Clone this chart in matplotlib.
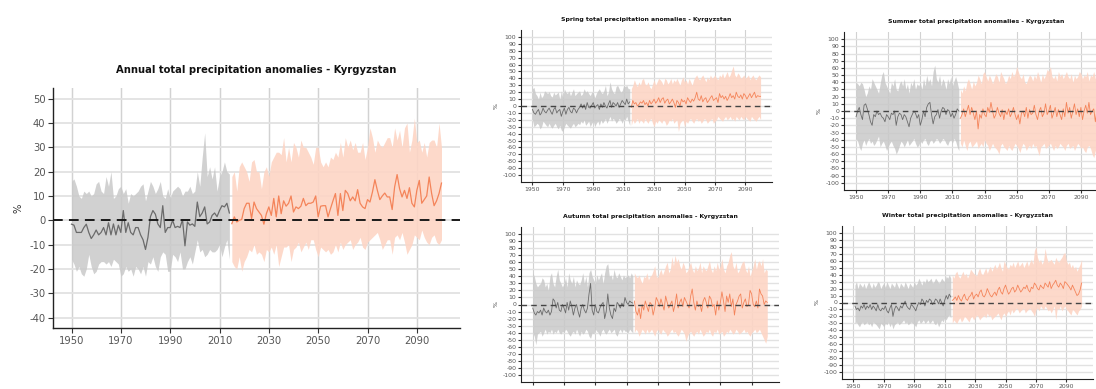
import numpy as np
import matplotlib
matplotlib.use("Agg")
import matplotlib.pyplot as plt

plt.rcParams["font.family"] = ["DejaVu Sans"]
plt.rcParams["axes.unicode_minus"] = False

# ---------------------------------------------------------------- data
years_hist = np.arange(1950, 2015)
years_hist_djf = np.arange(1951, 2015)
years_fut = np.arange(2015, 2101)

# Annual
annual_hist_mean = [
    -1.6, -2, -5, -5, -5, -3, -1.6, -5, -7.5, -6,
    -4, -6, -5, -3, -6, -1, -6, -1.5, -6, -2,
    -5, 4, -5, -1, -5, -6, -3, -3, -6, -8,
    -12, -7, 1.5, 4, 2.5, -1.5, -3, 6, -5, -3,
    -3, 0, -3, -2.5, -3, 0.3, -10.5, -0.7, -2, -1.5,
    -2.5, 7.5, 1.5, 3, 5.5, -1.5, -0.7, 2, 3, 1.5,
    4, 6, 5.5, 7, 3,
]
annual_hist_high = [
    16, 17, 14, 10, 9, 12, 11, 12, 10, 11,
    15, 16, 12, 11, 18, 14, 20, 9, 10, 13,
    14, 11, 13, 7, 11, 10, 11, 12, 14, 15,
    8, 12, 16, 14, 11, 13, 16, 10, 9, 13,
    9, 12, 13, 14, 13, 10, 12, 12, 14, 11,
    12, 20, 14, 26, 36, 18, 22, 17, 22, 12,
    18, 20, 24, 20, 19,
]
annual_hist_low = [
    -16, -18, -21, -19, -22, -23, -20, -14, -19, -22,
    -21, -18, -17, -17, -18, -17, -19, -16, -17, -18,
    -23, -22, -19, -21, -20, -23, -19, -20, -22, -19,
    -23, -17, -18, -15, -19, -21, -15, -13, -14, -21,
    -21, -14, -15, -17, -13, -20, -20, -17, -15, -18,
    -13, -8, -13, -12, -15, -14, -12, -13, -13, -12,
    -10, -15, -11, -8, -16,
]
annual_fut_mean = [
    -1.4, 1.4, -0.7, 0, 0.3, 4.8, 7, 7, 0.7, 7.5,
    4.8, 3.4, 2, -1.6, 2.7, 5.5, 2, 9, 1.4, 10,
    2.7, 8, 5.8, 7, 10, 3.4, 5.5, 4.8, 5.8, 9,
    6, 7, 7, 7.5, 10, 1.4, 5.8, 6, 6, 1.4,
    4.8, 8, 11, 2, 11, 4, 12.3, 11, 8, 9.6,
    8, 12.6, 7, 5.5, 4.8, 8.5, 7.5, 11.6, 16.7, 12.3,
    8.5, 10, 11.2, 9.6, 9.6, 4.4, 13.7, 18.8, 13, 9.6,
    12.3, 9, 13.4, 7, 5.5, 12.3, 16.4, 7, 8.5, 10,
    17.8, 11, 6, 8, 11, 15.3,
]
annual_fut_high = [
    18, 20, 12, 22, 24, 22, 20, 16, 24, 25,
    20, 20, 13, 20, 22, 18, 24, 26, 28, 28,
    27, 34, 24, 30, 24, 32, 30, 26, 33, 30,
    30, 28, 26, 23, 30, 30, 24, 22, 24, 22,
    26, 25, 28, 26, 32, 26, 34, 30, 33, 29,
    32, 28, 28, 32, 25, 30, 38, 34, 28, 33,
    31, 30, 32, 34, 34, 30, 38, 33, 37, 30,
    38, 40, 28, 33, 42, 32, 33, 28, 32, 26,
    32, 33, 33, 30, 40, 30,
]
annual_fut_low = [
    -17, -19, -20, -15, -21, -17, -15, -12, -13, -10,
    -14, -13, -14, -17, -12, -13, -11, -14, -10, -19,
    -15, -11, -11, -10, -17, -12, -11, -9, -13, -11,
    -9, -12, -8, -8, -12, -15, -11, -12, -13, -12,
    -14, -13, -10, -13, -9, -12, -10, -9, -8, -12,
    -10, -9, -7, -11, -12, -9, -8, -7, -6, -5,
    -8, -12, -10, -8, -8, -14, -7, -6, -8, -5,
    -9, -14, -12, -10, -6, -7, -8, -4, -7, -9,
    -10, -7, -6, -9, -10, -8,
]

# Spring
spring_hist_mean = [
    -5, -10, -12, -8, -5, -13, -10, -3, -8, -10,
    -6, -3, -8, -12, -5, -2, -10, -7, -5, -15,
    -8, -3, -12, -5, -2, -8, -10, -3, -5, -10,
    -5, -2, 3, -3, 2, -5, 5, -2, -3, 1,
    5, -3, 0, 2, -5, 3, -2, 5, 0, -3,
    3, 8, -2, 5, 3, 0, 5, -2, 3, 8,
    5, 2, 10, 3, 6,
]
spring_hist_high = [
    25, 27, 18, 15, 10, 20, 12, 15, 22, 20,
    18, 21, 15, 13, 20, 16, 18, 20, 10, 22,
    12, 25, 20, 18, 22, 15, 20, 25, 15, 18,
    20, 22, 15, 18, 25, 20, 22, 18, 15, 20,
    20, 12, 18, 22, 25, 20, 18, 22, 30, 15,
    20, 35, 25, 20, 18, 28, 30, 25, 20, 22,
    30, 28, 30, 25, 25,
]
spring_hist_low = [
    -20, -30, -28, -25, -27, -33, -30, -22, -25, -28,
    -30, -25, -30, -32, -28, -25, -30, -33, -28, -35,
    -37, -30, -25, -28, -30, -32, -28, -25, -30, -28,
    -25, -27, -22, -25, -20, -28, -25, -22, -30, -25,
    -22, -30, -25, -22, -28, -20, -25, -22, -18, -25,
    -20, -15, -22, -18, -20, -25, -22, -18, -20, -25,
    -18, -20, -15, -22, -28,
]
spring_fut_mean = [
    -2, 8, 3, 5, 0, 2, 6, 4, 8, 2,
    5, 0, 8, 3, 6, 10, 4, 7, 12, 5,
    10, 12, 4, 8, 10, 3, 6, 10, 5, -2,
    8, 5, 0, 10, 6, 8, 3, 12, 8, 5,
    10, 7, 12, 20, 10, 8, 15, 6, 10, 12,
    5, 8, 12, 15, 8, 10, 12, 5, 18, 12,
    15, 10, 14, 8, 12, 18, 12, 15, 10, 20,
    14, 12, 16, 10, 18, 15, 10, 14, 18, 12,
    16, 20, 12, 15, 14, 14,
]
spring_fut_high = [
    25, 30, 38, 32, 28, 35, 30, 38, 40, 32,
    30, 35, 28, 25, 32, 38, 30, 35, 40, 38,
    35, 30, 40, 38, 32, 35, 40, 32, 38, 35,
    40, 35, 30, 38, 42, 35, 38, 32, 40, 35,
    30, 38, 42, 45, 40, 38, 42, 45, 40, 35,
    42, 38, 45, 40, 42, 45, 40, 38, 45, 42,
    48, 40, 45, 50, 42, 45, 52, 58, 45, 42,
    48, 45, 40, 42, 45, 40, 42, 45, 38, 42,
    45, 40, 38, 42, 45, 42,
]
spring_fut_low = [
    -28, -20, -25, -22, -18, -25, -20, -22, -25, -18,
    -22, -25, -20, -18, -25, -30, -22, -25, -20, -22,
    -25, -20, -22, -28, -25, -20, -22, -18, -25, -22,
    -20, -37, -25, -22, -20, -30, -22, -25, -20, -18,
    -22, -25, -20, -18, -22, -20, -25, -22, -18, -20,
    -25, -22, -20, -18, -25, -22, -20, -15, -18, -20,
    -22, -18, -15, -20, -18, -15, -20, -18, -22, -15,
    -18, -20, -15, -18, -20, -15, -18, -20, -22, -15,
    -18, -20, -22, -18, -15, -20,
]

# Summer
summer_hist_mean = [
    -8, 0, 5, -5, -12, 8, 10, 3, -5, -15,
    -20, -5, -8, 0, -5, -3, -8, -10, -15, -5,
    -8, -12, -3, -5, 0, -20, -8, -3, -5, -12,
    -5, -8, -15, -22, -10, -5, 0, -3, -10, -5,
    -20, -12, 0, -8, 5, 10, 12, -5, -18, -8,
    -5, 2, -10, 0, 5, 3, -5, 2, 0, -8,
    -3, -10, -5, 3, 0,
]
summer_hist_high = [
    40, 38, 35, 40, 38, 30, 20, 25, 35, 30,
    45, 40, 35, 30, 25, 38, 50, 55, 40, 35,
    30, 25, 40, 35, 45, 30, 28, 38, 42, 35,
    45, 30, 38, 25, 40, 35, 45, 30, 38, 35,
    40, 30, 45, 35, 50, 40, 45, 35, 55, 64,
    45, 40, 50, 35, 45, 40, 30, 45, 38, 48,
    35, 42, 48, 40, 30,
]
summer_hist_low = [
    -38, -42, -50, -55, -45, -40, -48, -42, -38, -45,
    -42, -48, -45, -40, -35, -50, -45, -42, -48, -55,
    -50, -45, -42, -48, -52, -60, -55, -48, -42, -45,
    -50, -45, -40, -48, -45, -42, -38, -45, -50, -48,
    -42, -45, -40, -38, -45, -48, -42, -40, -45, -42,
    -38, -40, -45, -42, -38, -40, -45, -48, -42, -40,
    -45, -38, -42, -50, -55,
]
summer_fut_mean = [
    -10, -5, 3, -8, 0, 8, -5, 5, -3, -12,
    0, -25, -5, -10, 3, -5, -8, 5, -2, 12,
    0, -10, -5, 5, -3, -8, 2, -12, 0, -5,
    3, -8, -3, 5, -5, -12, -5, -18, -3, 0,
    -8, 5, -10, 2, -5, -3, 8, -5, -12, 0,
    5, -8, -3, 10, -5, 0, 8, -10, -3, 5,
    -8, 2, -5, -12, 3, -8, 12, -3, 5, -10,
    0, 10, -5, 3, -8, 5, -12, 0, 8, -3,
    12, -5, 0, 3, -15, 2,
]
summer_fut_high = [
    30, 25, 35, 28, 40, 45, 38, 30, 42, 35,
    40, 50, 45, 38, 52, 55, 48, 42, 50, 45,
    38, 45, 52, 48, 40, 55, 50, 45, 38, 42,
    50, 45, 55, 48, 52, 62, 55, 48, 45, 52,
    40, 38, 45, 50, 48, 42, 50, 45, 55, 48,
    40, 52, 45, 50, 58, 55, 62, 48, 45, 50,
    42, 55, 48, 52, 45, 50, 55, 48, 45, 52,
    40, 50, 45, 48, 55, 52, 45, 50, 48, 55,
    42, 50, 48, 55, 45, 50,
]
summer_fut_low = [
    -45, -50, -40, -48, -55, -45, -42, -50, -48, -45,
    -42, -52, -48, -45, -50, -40, -45, -48, -55, -50,
    -45, -50, -52, -55, -60, -48, -45, -50, -52, -55,
    -48, -52, -55, -50, -45, -48, -52, -58, -50, -45,
    -48, -55, -50, -48, -52, -45, -50, -48, -55, -62,
    -50, -48, -45, -52, -50, -48, -45, -50, -55, -48,
    -52, -50, -45, -48, -50, -55, -48, -45, -52, -50,
    -48, -55, -50, -45, -48, -52, -50, -55, -58, -50,
    -48, -52, -60, -65, -55, -50,
]

# Autumn
autumn_hist_mean = [
    -5, -12, -15, -10, -12, -8, -15, -5, -10, -12,
    -8, -15, -10, 8, 5, -5, 3, -8, -10, 0,
    -5, -12, 3, -8, 5, -3, -15, -5, 0, -10,
    -18, -5, 0, -8, -12, -5, 15, 30, -8, -15,
    0, -10, -12, -5, 0, 3, -20, -10, 15, -5,
    -15, -20, -5, -10, 3, 0, -5, 2, -3, 10,
    3, 0, 5, 3, 2,
]
autumn_hist_high = [
    45, 40, 30, 25, 28, 30, 38, 35, 25, 30,
    20, 40, 45, 30, 25, 40, 50, 35, 30, 25,
    30, 38, 25, 45, 35, 30, 40, 25, 35, 30,
    28, 35, 45, 30, 40, 25, 45, 50, 40, 35,
    30, 42, 35, 40, 45, 30, 45, 55, 58, 40,
    42, 35, 50, 40, 38, 45, 40, 35, 42, 38,
    40, 42, 38, 45, 40,
]
autumn_hist_low = [
    -40, -45, -57, -42, -40, -38, -45, -40, -35, -42,
    -38, -40, -35, -42, -38, -40, -35, -40, -42, -38,
    -40, -35, -38, -42, -45, -40, -38, -42, -35, -40,
    -45, -38, -42, -40, -35, -38, -45, -48, -40, -42,
    -35, -38, -40, -45, -38, -35, -40, -42, -38, -35,
    -40, -38, -35, -42, -45, -38, -35, -40, -35, -38,
    -38, -40, -35, -38, -40,
]
autumn_fut_mean = [
    5, -10, -15, -5, -20, 0, -8, 5, -3, -10,
    3, 0, -15, -5, 10, 5, -3, 8, 0, -8,
    12, 3, -5, 0, 5, -10, 0, 15, -5, 3,
    8, -3, 10, 5, 0, -5, 12, 22, 3, -8,
    5, -3, 0, -10, 5, 10, 3, -5, 12, 8,
    -3, 0, -15, 5, -8, 3, 18, 5, -10, 12,
    3, 15, -3, 8, -15, 0, 5, 12, 15, -5,
    3, 8, -3, 0, 20, 15, 0, -3, 5, -5,
    22, 15, 12, 0, 5, 3,
]
autumn_fut_high = [
    45, 40, 38, 42, 35, 30, 40, 38, 45, 35,
    40, 42, 48, 55, 40, 38, 45, 50, 42, 48,
    55, 60, 45, 50, 68, 55, 70, 60, 65, 55,
    50, 60, 55, 45, 48, 55, 60, 50, 45, 55,
    48, 52, 60, 45, 55, 50, 48, 55, 62, 50,
    45, 55, 48, 60, 50, 55, 65, 50, 45, 55,
    60, 70, 75, 55, 50, 60, 45, 48, 55, 60,
    62, 50, 45, 55, 40, 48, 55, 65, 50, 60,
    62, 55, 65, 45, 50, 48,
]
autumn_fut_low = [
    -40, -35, -38, -45, -40, -35, -38, -42, -35, -40,
    -38, -35, -40, -45, -38, -35, -40, -42, -35, -38,
    -40, -45, -42, -38, -35, -40, -38, -42, -45, -40,
    -35, -38, -42, -52, -45, -40, -38, -42, -45, -40,
    -38, -42, -35, -40, -45, -42, -38, -40, -35, -42,
    -45, -38, -40, -35, -42, -40, -38, -45, -42, -38,
    -40, -35, -38, -42, -40, -35, -38, -42, -40, -38,
    -35, -40, -38, -42, -45, -40, -38, -35, -40, -38,
    -35, -40, -45, -50, -55, -45,
]

# Winter (DJF, starts 1951)
winter_hist_mean = [
    -5, -10, -8, -12, -5, -8, -3, -10, -5,
    -8, -3, -10, -5, -8, -12, -3, -10, -12, -8,
    -10, -5, -12, -15, -8, -3, -20, -10, -5, -8,
    -12, -5, -8, -3, 2, -5, -8, -10, -3, -5,
    -8, -12, -5, 0, -3, 5, 2, -5, 3, 0,
    5, 3, -3, 0, 5, 3, -2, 5, 0, -5,
    3, 10, 5, 12, 8,
]
winter_hist_high = [
    25, 30, 20, 28, 25, 22, 28, 20, 25,
    30, 25, 20, 28, 22, 25, 30, 28, 20, 25,
    28, 22, 30, 25, 20, 28, 25, 22, 30, 25,
    20, 28, 25, 22, 30, 25, 20, 28, 25, 22,
    30, 25, 28, 35, 30, 25, 32, 28, 35, 30,
    32, 35, 28, 30, 35, 32, 28, 30, 35, 32,
    30, 38, 35, 40, 35,
]
winter_hist_low = [
    -30, -28, -32, -35, -30, -28, -32, -30, -28,
    -32, -30, -35, -28, -30, -32, -35, -38, -30, -32,
    -35, -30, -32, -28, -35, -30, -38, -32, -30, -28,
    -32, -30, -28, -25, -30, -28, -32, -30, -28, -30,
    -32, -35, -28, -25, -30, -28, -25, -30, -28, -25,
    -30, -28, -25, -30, -32, -28, -35, -30, -25, -28,
    -22, -25, -20, -18, -22,
]
winter_fut_mean = [
    3, 5, 8, 3, 10, 5, 2, 8, 12, 5,
    3, 8, 10, 15, 5, 10, 12, 8, 15, 18,
    10, 8, 12, 20, 15, 10, 8, 12, 15, 10,
    18, 22, 15, 12, 20, 25, 18, 12, 15, 20,
    22, 15, 18, 25, 20, 15, 18, 22, 20, 25,
    18, 15, 22, 20, 28, 25, 20, 18, 25, 22,
    20, 28, 25, 22, 30, 20, 25, 28, 32, 25,
    22, 28, 25, 20, 30, 28, 25, 22, 18, 25,
    20, 15, 10, 12, 18, 28,
]
winter_fut_high = [
    40, 35, 42, 45, 38, 35, 40, 45, 38, 42,
    35, 40, 48, 45, 42, 40, 38, 45, 50, 42,
    40, 45, 50, 42, 48, 52, 45, 50, 55, 48,
    52, 58, 50, 45, 60, 55, 50, 48, 55, 52,
    58, 50, 55, 60, 52, 55, 58, 50, 55, 60,
    52, 58, 62, 55, 75, 80, 65, 58, 62, 55,
    60, 78, 65, 58, 60, 62, 58, 55, 65, 60,
    58, 62, 65, 70, 72, 60, 55, 58, 50, 55,
    48, 52, 45, 50, 55, 62,
]
winter_fut_low = [
    -30, -25, -28, -30, -25, -22, -28, -25, -20, -22,
    -25, -28, -22, -20, -25, -22, -18, -20, -25, -22,
    -20, -18, -22, -15, -20, -18, -25, -22, -20, -18,
    -15, -20, -25, -18, -15, -20, -15, -12, -18, -10,
    -15, -12, -8, -10, -15, -12, -10, -8, -15, -12,
    -10, -8, -12, -15, -20, -10, -8, -12, -5, -8,
    -10, -5, -8, -12, -10, -15, -10, -5, -25, -8,
    -10, -5, -12, -8, -5, -10, -12, -15, -18, -10,
    -12, -15, -18, -12, -10, -5,
]

x_ticks = [1950, 1970, 1990, 2010, 2030, 2050, 2070, 2090]
main_yticks = list(range(-40, 51, 10))
season_yticks = list(range(-100, 101, 10))

HIST_FILL = "#c9c9c9"
HIST_LINE = "#6b6b6b"
FUT_FILL = "#fdd5c5"
FUT_LINE = "#f4845a"
LABEL_GREY = "#555555"

W, H = 1096, 389
fig = plt.figure(figsize=(W / 100, H / 100), dpi=100)


def px_axes(left, top, right, bottom):
    return fig.add_axes([left / W, (H - bottom) / H, (right - left) / W, (bottom - top) / H])


def draw_panel(ax, title, yrs_h, h_mean, h_lo, h_hi, yrs_f, f_mean, f_lo, f_hi,
               yticks, ylim, fs, title_pad, line_w, zero_kw, grid_w, show_xlabels=True):
    ax.fill_between(yrs_h, h_lo, h_hi, color=HIST_FILL, alpha=0.85, lw=0, zorder=2)
    ax.fill_between(yrs_f, f_lo, f_hi, color=FUT_FILL, alpha=0.9, lw=0, zorder=2)
    ax.plot(yrs_h, h_mean, color=HIST_LINE, lw=line_w, zorder=3)
    ax.plot(yrs_f, f_mean, color=FUT_LINE, lw=line_w, zorder=3)
    ax.axhline(0, zorder=4, **zero_kw)

    ax.set_xlim(1942.5, 2107.5)
    ax.set_ylim(*ylim)
    ax.set_xticks(x_ticks)
    ax.set_yticks(yticks)
    ax.set_yticklabels([str(v) for v in yticks])

    ax.set_axisbelow(True)
    ax.grid(axis="y", color="#e2e2e2", lw=grid_w, zorder=0)
    ax.grid(axis="x", color="#d2d2d2", lw=grid_w * 0.8, zorder=0)

    for s in ("top", "right"):
        ax.spines[s].set_visible(False)
    for s in ("left", "bottom"):
        ax.spines[s].set_color("#222222")
        ax.spines[s].set_linewidth(1.0 if fs > 6 else 0.8)

    ax.tick_params(axis="both", colors="#333333", labelcolor=LABEL_GREY,
                   labelsize=fs, length=fs * 0.5, width=0.8, pad=fs * 0.25)
    if not show_xlabels:
        ax.tick_params(axis="x", labelbottom=False)
    ax.set_title(title, fontsize=fs, fontweight="bold", pad=title_pad, color="#111111")
    ax.set_ylabel("%", fontsize=fs, color="#333333", labelpad=fs * 0.6)


# Annual panel
ax_main = px_axes(53, 88, 460, 328)
draw_panel(ax_main, "Annual total precipitation anomalies - Kyrgyzstan",
           years_hist, annual_hist_mean, annual_hist_low, annual_hist_high,
           years_fut, annual_fut_mean, annual_fut_low, annual_fut_high,
           main_yticks, (-44.3, 54.4), 7.2, 10.5, 0.9,
           dict(color="#1a1a1a", lw=1.4, dashes=(5, 3.2)), 1.3)

small_kw = dict(yticks=season_yticks, ylim=(-110, 110), fs=4.4, title_pad=6.5,
                line_w=0.6, zero_kw=dict(color="#444444", lw=1.0, dashes=(4, 3)),
                grid_w=1.0)

ax_spring = px_axes(521, 30, 772, 182)
draw_panel(ax_spring, "Spring total precipitation anomalies - Kyrgyzstan",
           years_hist, spring_hist_mean, spring_hist_low, spring_hist_high,
           years_fut, spring_fut_mean, spring_fut_low, spring_fut_high, **small_kw)

ax_summer = px_axes(844, 32, 1109, 190)
draw_panel(ax_summer, "Summer total precipitation anomalies - Kyrgyzstan",
           years_hist, summer_hist_mean, summer_hist_low, summer_hist_high,
           years_fut, summer_fut_mean, summer_fut_low, summer_fut_high, **small_kw)

ax_autumn = px_axes(521, 227, 779, 382)
draw_panel(ax_autumn, "Autumn total precipitation anomalies - Kyrgyzstan",
           years_hist, autumn_hist_mean, autumn_hist_low, autumn_hist_high,
           years_fut, autumn_fut_mean, autumn_fut_low, autumn_fut_high,
           show_xlabels=False, **small_kw)

ax_winter = px_axes(842, 226, 1093, 379)
draw_panel(ax_winter, "Winter total precipitation anomalies - Kyrgyzstan",
           years_hist_djf, winter_hist_mean, winter_hist_low, winter_hist_high,
           years_fut, winter_fut_mean, winter_fut_low, winter_fut_high, **small_kw)

fig.savefig("out.png", dpi=100)
